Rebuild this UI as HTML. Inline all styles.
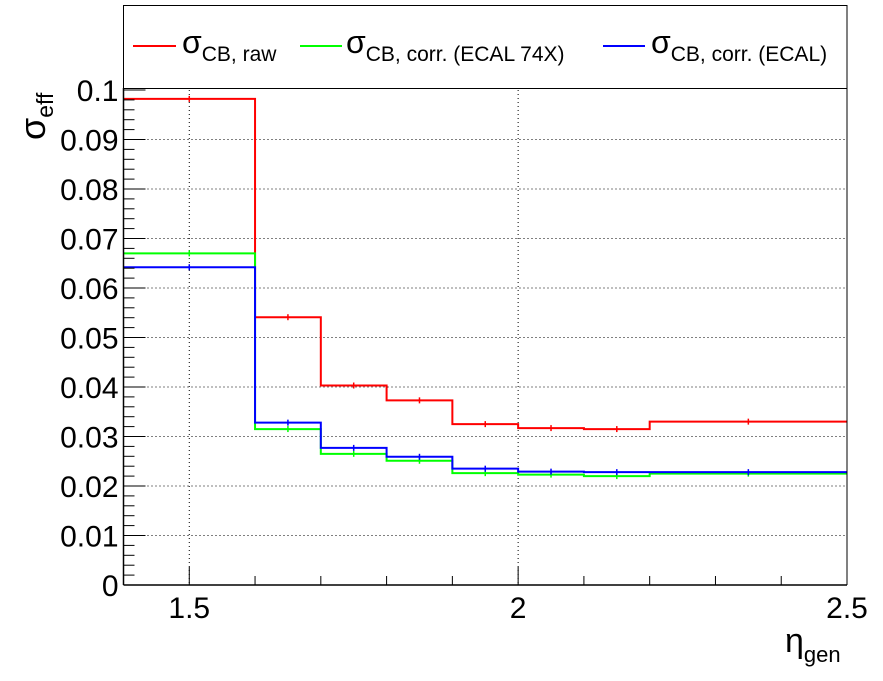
<!DOCTYPE html>
<html><head><meta charset="utf-8"><style>
html,body{margin:0;padding:0;background:#fff;}
svg{display:block;font-family:"Liberation Sans",sans-serif;}
</style></head><body>
<svg id="c" width="883" height="681">
<rect x="0" y="0" width="883" height="681" fill="#fff"/>
<g id="grid"></g>
<g id="series"></g>
<g id="axes"></g>
<g id="legend">
<rect x="123.5" y="5.5" width="723.5" height="83" fill="#fff" stroke="#000" stroke-width="1"/>
<g>
<line x1="133" y1="46" x2="176" y2="46" stroke="#f00" stroke-width="2"/>
<text x="182" y="53" font-size="32">σ<tspan font-size="21" dy="8">CB, raw</tspan></text></g>
<g>
<line x1="300" y1="46" x2="342" y2="46" stroke="#0f0" stroke-width="2"/>
<text x="346" y="53" font-size="32">σ<tspan font-size="21" dy="8">CB, corr. (ECAL 74X)</tspan></text></g>
<g>
<line x1="603" y1="46" x2="645" y2="46" stroke="#00f" stroke-width="2"/>
<text x="651" y="53" font-size="32">σ<tspan font-size="21" dy="8">CB, corr. (ECAL)</tspan></text></g>
</g>
<text transform="translate(45,140) rotate(-90)" font-size="36">σ<tspan font-size="23" dy="8">eff</tspan></text>
<text x="785" y="652" font-size="34">η<tspan font-size="22" dy="10">gen</tspan></text>
</svg>
<script>
const edges=[1.4,1.6,1.7,1.8,1.9,2.0,2.1,2.2,2.5];
const rawVals=[0.0982,0.0541,0.0403,0.0373,0.0325,0.0317,0.0315,0.0330];
const corr74Vals=[0.0670,0.0315,0.0265,0.0251,0.0226,0.0223,0.0220,0.0225];
const corrEcalVals=[0.0642,0.0328,0.0277,0.0259,0.0235,0.0229,0.0228,0.0228];
const yTicks=[0,0.01,0.02,0.03,0.04,0.05,0.06,0.07,0.08,0.09,0.1];
const yTickLabels=["0","0.01","0.02","0.03","0.04","0.05","0.06","0.07","0.08","0.09","0.1"];
const xTicks=[1.5,2,2.5];
const xTickLabels=["1.5","2","2.5"];
const NS="http://www.w3.org/2000/svg";
const X0=123.5,X1=847,Y0=585,Y1=90;
const xs=v=>X0+(v-1.4)/(2.5-1.4)*(X1-X0);
const ys=v=>Y0-(v/0.1)*(Y0-Y1);
function mk(t,a,p){const e=document.createElementNS(NS,t);for(const k in a)e.setAttribute(k,a[k]);p.appendChild(e);return e;}
const grid=document.getElementById('grid'),axes=document.getElementById('axes'),ser=document.getElementById('series');
yTicks.forEach((v,i)=>{
 if(v>0&&v<0.1){const g=mk('line',{x1:X0,x2:X1,y1:ys(v),y2:ys(v),stroke:'#000','stroke-width':1,'stroke-dasharray':'1,3'},grid);
 
 }
 const t=mk('line',{x1:X0,x2:X0+22,y1:ys(v),y2:ys(v),stroke:'#000','stroke-width':1},axes);
 
 
 const l=mk('text',{x:X0-5,y:ys(v)+11,'font-size':30,'text-anchor':'end'},axes);l.textContent=yTickLabels[i];
 
 
});
for(let v=0.002;v<0.1;v+=0.002){if(Math.abs(v*100-Math.round(v*100))<1e-6)continue;
 mk('line',{x1:X0,x2:X0+11,y1:ys(v),y2:ys(v),stroke:'#000','stroke-width':1},axes);}
for(let k=15;k<=25;k++){const v=k/10;const maj=(k%5===0);
 mk('line',{x1:xs(v),x2:xs(v),y1:Y0,y2:Y0-(maj?18:9),stroke:'#000','stroke-width':1},axes);}
xTicks.forEach((v,i)=>{
 if(v<2.5){const g=mk('line',{x1:xs(v),x2:xs(v),y1:Y1,y2:Y0,stroke:'#000','stroke-width':1,'stroke-dasharray':'1,3'},grid);
 
 }
 const l=mk('text',{x:xs(v),y:618,'font-size':30,'text-anchor':'middle'},axes);l.textContent=xTickLabels[i];
 
 
});
mk('line',{x1:X0,x2:X1,y1:Y0,y2:Y0,stroke:'#000','stroke-width':1.5},axes);
mk('line',{x1:X0,x2:X0,y1:88,y2:Y0,stroke:'#000','stroke-width':1.5},axes);
mk('line',{x1:X1,x2:X1,y1:88,y2:Y0,stroke:'#000','stroke-width':1},axes);
function hist(vals,col,name){
 let d='M'+xs(edges[0])+','+ys(vals[0]);
 vals.forEach((v,i)=>{d+=' L'+xs(edges[i])+','+ys(v)+' L'+xs(edges[i+1])+','+ys(v);});
 const p=mk('path',{d:d,fill:'none',stroke:col,'stroke-width':2},ser);
 
 
 vals.forEach((v,i)=>{const cx=xs((edges[i]+edges[i+1])/2);
  const e=mk('line',{x1:cx,x2:cx,y1:ys(v)-3,y2:ys(v)+3,stroke:col,'stroke-width':1.5},ser);
  
  });
}
hist(rawVals,'#f00','raw-histogram');
hist(corr74Vals,'#0f0','corr-74x-histogram');
hist(corrEcalVals,'#00f','corr-ecal-histogram');
</script>
</body></html>
